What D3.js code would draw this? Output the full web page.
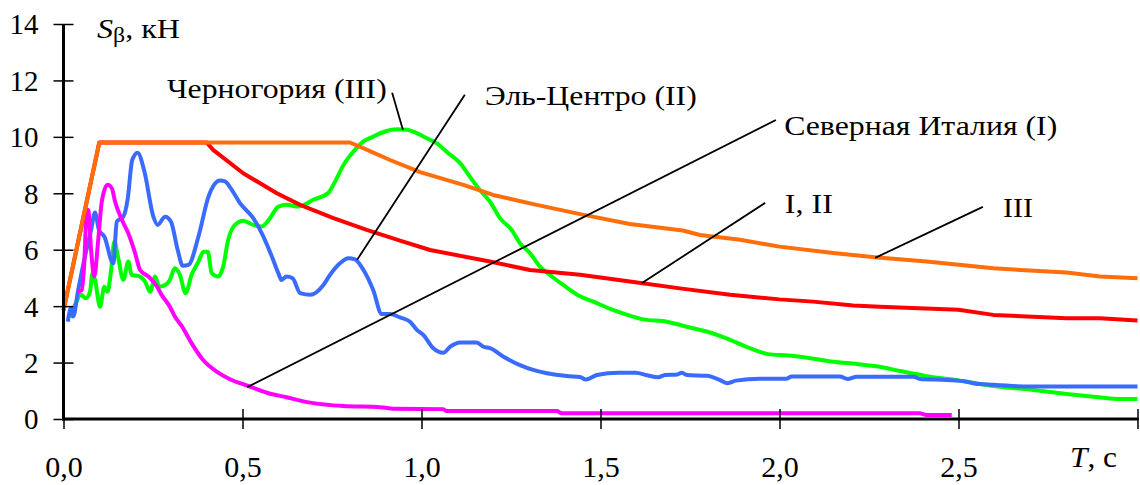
<!DOCTYPE html>
<html><head><meta charset="utf-8">
<script src="https://cdn.jsdelivr.net/npm/d3@7"></script>
<style>
html,body{margin:0;padding:0;background:#fff;}
svg{display:block;}
text{font-family:"Liberation Serif","Times New Roman",serif;fill:#000;}
</style></head>
<body>
<svg id="chart" width="1140" height="485"></svg>
<script>
// ---- data (T in s, S in kN) ----
const xTicks = [0, 0.5, 1.0, 1.5, 2.0, 2.5, 3.0];
const xTickLabels = ["0,0", "0,5", "1,0", "1,5", "2,0", "2,5", ""];
const yTicks = [0, 2, 4, 6, 8, 10, 12, 14];

const seriesIII = [[0,3.85],[0.1,9.8],[0.8,9.8],[0.837,9.6],[0.912,9.18],[0.996,8.75],[1.117,8.30],[1.2,7.94],[1.322,7.59],[1.443,7.26],[1.582,6.91],[1.73,6.68],[1.778,6.52],[1.89,6.35],[2.0,6.11],[2.15,5.88],[2.266,5.73],[2.411,5.58],[2.597,5.34],[2.802,5.19],[2.895,5.05],[3.0,4.99]];

const seriesI_II = [[0,3.85],[0.1,9.8],[0.4,9.8],[0.418,9.54],[0.502,8.71],[0.596,8.0],[0.661,7.59],[0.754,7.12],[0.847,6.70],[0.94,6.32],[1.024,5.99],[1.191,5.58],[1.303,5.28],[1.443,5.11],[1.582,4.87],[1.722,4.63],[1.862,4.40],[2.0,4.24],[2.094,4.16],[2.206,4.02],[2.28,3.98],[2.5,3.87],[2.597,3.69],[2.802,3.57],[2.895,3.57],[3.0,3.49]];

const montenegro = [[0.018,3.6],[0.034,4.10],[0.049,4.40],[0.062,4.28],[0.074,4.51],[0.081,5.17],[0.088,4.93],[0.102,3.98],[0.114,4.69],[0.123,4.51],[0.133,5.28],[0.142,6.29],[0.153,5.70],[0.167,4.93],[0.181,5.58],[0.190,5.11],[0.209,5.07],[0.228,4.87],[0.242,4.51],[0.256,5.05],[0.267,4.69],[0.284,4.75],[0.297,4.93],[0.311,5.34],[0.325,5.11],[0.341,4.46],[0.358,5.11],[0.377,5.58],[0.391,5.93],[0.403,5.93],[0.414,5.17],[0.432,5.05],[0.446,5.40],[0.46,6.35],[0.479,6.88],[0.502,7.03],[0.53,6.88],[0.554,6.82],[0.577,7.12],[0.60,7.53],[0.623,7.59],[0.656,7.53],[0.698,7.77],[0.740,8.02],[0.758,8.4],[0.782,9.0],[0.81,9.48],[0.837,9.83],[0.865,10.01],[0.898,10.19],[0.931,10.27],[0.959,10.25],[0.987,10.13],[1.015,9.95],[1.042,9.78],[1.075,9.42],[1.108,9.07],[1.135,8.59],[1.163,8.12],[1.191,7.71],[1.219,7.12],[1.252,6.70],[1.275,6.23],[1.303,5.88],[1.331,5.40],[1.364,5.05],[1.396,4.75],[1.443,4.35],[1.48,4.16],[1.527,3.9],[1.575,3.69],[1.62,3.53],[1.685,3.45],[1.741,3.27],[1.797,3.1],[1.852,2.86],[1.908,2.56],[1.968,2.30],[2.025,2.25],[2.10,2.13],[2.15,2.03],[2.216,1.95],[2.28,1.85],[2.337,1.70],[2.411,1.52],[2.504,1.36],[2.597,1.17],[2.709,1.03],[2.802,0.89],[2.877,0.79],[2.942,0.71],[3.0,0.71]];

const elCentro = [[0.012,3.45],[0.021,3.93],[0.027,3.63],[0.041,4.57],[0.060,5.76],[0.077,6.70],[0.088,7.32],[0.099,6.70],[0.114,6.47],[0.139,5.52],[0.149,7.0],[0.167,7.17],[0.179,7.77],[0.192,9.18],[0.207,9.44],[0.226,8.77],[0.251,7.17],[0.263,6.88],[0.284,7.17],[0.300,7.0],[0.319,5.99],[0.333,5.43],[0.349,5.46],[0.377,6.47],[0.405,7.88],[0.437,8.45],[0.451,8.42],[0.470,8.12],[0.493,7.65],[0.530,7.12],[0.554,6.58],[0.582,5.76],[0.600,5.17],[0.609,4.93],[0.623,5.05],[0.640,4.99],[0.661,4.46],[0.689,4.40],[0.726,4.75],[0.744,5.1],[0.772,5.52],[0.796,5.70],[0.814,5.66],[0.838,5.28],[0.865,4.57],[0.889,3.72],[0.912,3.72],[0.94,3.6],[0.968,3.45],[0.987,3.16],[1.005,2.98],[1.033,2.51],[1.061,2.35],[1.08,2.56],[1.108,2.71],[1.154,2.71],[1.173,2.56],[1.191,2.51],[1.229,2.21],[1.275,1.91],[1.312,1.74],[1.35,1.62],[1.406,1.52],[1.443,1.49],[1.459,1.40],[1.49,1.56],[1.55,1.64],[1.598,1.64],[1.63,1.55],[1.661,1.48],[1.68,1.56],[1.715,1.58],[1.727,1.64],[1.741,1.56],[1.797,1.53],[1.834,1.38],[1.855,1.27],[1.878,1.36],[1.945,1.43],[2.02,1.43],[2.034,1.51],[2.169,1.51],[2.19,1.42],[2.216,1.50],[2.374,1.50],[2.392,1.42],[2.467,1.38],[2.523,1.32],[2.541,1.27],[2.597,1.21],[2.70,1.15],[3.0,1.15]];

const northItaly = [[0.040,4.51],[0.051,4.57],[0.058,5.52],[0.065,7.41],[0.069,7.41],[0.077,5.99],[0.086,5.05],[0.097,6.35],[0.107,7.71],[0.123,8.30],[0.135,8.18],[0.144,7.71],[0.163,7.06],[0.181,6.58],[0.20,5.88],[0.214,5.28],[0.237,5.05],[0.26,4.72],[0.274,4.40],[0.297,3.98],[0.311,3.63],[0.33,3.30],[0.358,2.68],[0.39,2.09],[0.428,1.68],[0.465,1.41],[0.516,1.17],[0.568,0.93],[0.623,0.77],[0.689,0.58],[0.782,0.46],[0.884,0.42],[0.93,0.36],[1.061,0.35],[1.07,0.28],[1.378,0.28],[1.392,0.20],[2.392,0.20],[2.41,0.14],[2.481,0.14]];

// annotation labels: text, anchor point [T,S], leader from [T,S] to [T,S]
const labelTexts = ["Черногория (III)", "Эль-Центро (II)", "Северная Италия (I)", "I, II", "III"];
const labelPos = [[0.289,11.38],[1.177,11.13],[2.013,10.07],[2.015,7.30],[2.624,7.15]];
const labelWidthT = [0.614, 0.592, 0.763, 0.134, 0.084];
const leaderFrom = [[0.918,11.56],[1.121,11.49],[1.99,10.6],[1.96,7.66],[2.568,7.52]];
const leaderTo = [[0.948,10.25],[0.82,5.64],[0.513,1.13],[1.616,4.82],[2.267,5.71]];

// ---- drawing ----
const FONT = '"Liberation Serif", "Times New Roman", serif';
const svg = d3.select("#chart");
const x = d3.scaleLinear().domain([0, 3]).range([63.5, 1137.5]);
const y = d3.scaleLinear().domain([0, 14]).range([419, 24]);

const line = d3.line().x(d => x(d[0])).y(d => y(d[1]));
const smooth = d3.line().x(d => x(d[0])).y(d => y(d[1])).curve(d3.curveMonotoneX);

const series = [
  {data: montenegro, color: "#00FF00", gen: smooth},
  {data: elCentro, color: "#3A6BFF", gen: smooth},
  {data: northItaly, color: "#FF00FF", gen: smooth},
  {data: seriesI_II, color: "#FF0000", gen: line},
  {data: seriesIII, color: "#FF6E0A", gen: line}
];

svg.append("g").selectAll("path").data(series).join("path")
  .attr("d", d => d.gen(d.data))
  .attr("fill", "none")
  .attr("stroke", d => d.color)
  .attr("stroke-width", 4)
  .attr("stroke-linejoin", "round")
  .attr("stroke-linecap", "butt");

// axes
const yAxis = svg.append("g").attr("transform", `translate(${x(0)},0)`)
  .call(d3.axisLeft(y).tickValues(yTicks).tickSize(10).tickFormat(d3.format("d")))
  .attr("font-family", FONT).attr("font-size", 29);
yAxis.select(".domain").remove();
yAxis.selectAll(".tick line").attr("x1", -10).attr("x2", 10).attr("stroke", "#000").attr("stroke-width", 1.5);
yAxis.selectAll(".tick text").attr("x", -25).attr("dy", "0.34em")
  .attr("font-family", FONT).style("font-family", FONT).style("font-size", "29px");
svg.append("line").attr("x1", x(0)).attr("x2", x(0)).attr("y1", y(14)).attr("y2", y(0) + 1.5)
  .attr("stroke", "#000").attr("stroke-width", 3);

const xAxis = svg.append("g").attr("transform", `translate(0,${y(0)})`)
  .call(d3.axisBottom(x).tickValues(xTicks).tickSize(10).tickFormat((d, i) => xTickLabels[i]))
  .attr("font-family", FONT).attr("font-size", 30);
xAxis.select(".domain").remove();
xAxis.selectAll(".tick line").attr("y1", -10).attr("y2", 10).attr("stroke", "#000").attr("stroke-width", 1.5);
xAxis.selectAll(".tick text").attr("y", 58).attr("dy", 0)
  .attr("font-family", FONT).style("font-family", FONT).style("font-size", "30px");
svg.append("line").attr("x1", x(0) - 1.5).attr("x2", x(3) + 1).attr("y1", y(0)).attr("y2", y(0))
  .attr("stroke", "#000").attr("stroke-width", 3);

// axis titles
const yt = svg.append("text").attr("x", 97).attr("y", 38)
  .attr("font-family", FONT).style("font-size", "27px")
  .attr("textLength", 83).attr("lengthAdjust", "spacingAndGlyphs");
yt.append("tspan").style("font-style", "italic").text("S");
yt.append("tspan").attr("dy", 4).style("font-size", "20px").text("β");
yt.append("tspan").attr("dy", -4).text(", кН");

const xt = svg.append("text").attr("x", 1070).attr("y", 467)
  .attr("font-family", FONT).style("font-size", "30px")
  .attr("textLength", 47).attr("lengthAdjust", "spacingAndGlyphs");
xt.append("tspan").style("font-style", "italic").text("T");
xt.append("tspan").text(", с");

// leaders
svg.append("g").selectAll("line").data(leaderFrom).join("line")
  .attr("x1", d => x(d[0])).attr("y1", d => y(d[1]))
  .attr("x2", (d, i) => x(leaderTo[i][0])).attr("y2", (d, i) => y(leaderTo[i][1]))
  .attr("stroke", "#000").attr("stroke-width", 1.8);

// labels
svg.append("g").selectAll("text").data(labelTexts).join("text")
  .attr("x", (d, i) => x(labelPos[i][0])).attr("y", (d, i) => y(labelPos[i][1]))
  .attr("font-family", FONT).style("font-size", "28px")
  .attr("textLength", (d, i) => x(labelWidthT[i]) - x(0))
  .attr("lengthAdjust", "spacingAndGlyphs")
  .text(d => d);
</script>
</body></html>
